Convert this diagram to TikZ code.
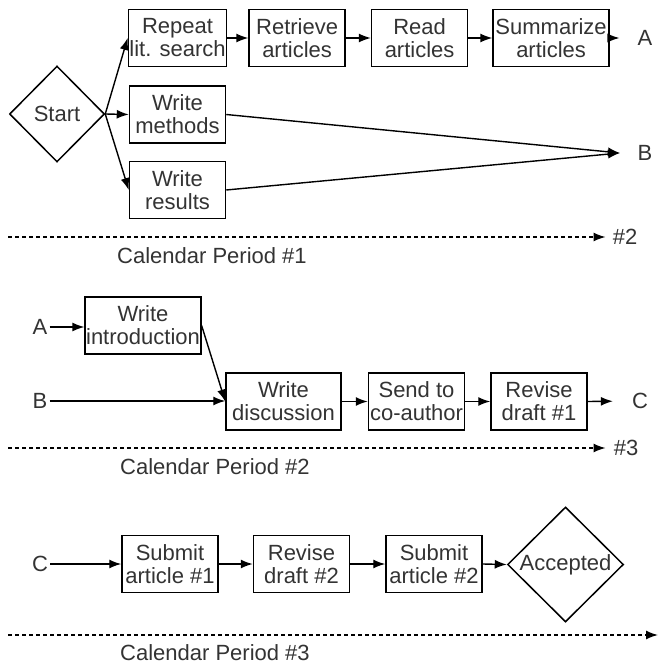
\documentclass[tikz,border=0pt]{standalone}
\usepackage{fontspec}
\setmainfont{Liberation Sans}
\usetikzlibrary{shapes.geometric,arrows.meta,positioning}

\begin{document}
\begin{tikzpicture}[x=1pt, y=-1pt,
    task/.style={rectangle, draw, line width=1.5pt, minimum width=96pt, minimum height=57pt, inner xsep=1pt, inner ysep=2pt, align=center, text=black!80, font=\fontsize{22}{23}\selectfont},
    decide/.style={diamond, draw, line width=1.5pt, inner sep=0pt, text=black!80, font=\fontsize{22}{23}\selectfont},
    lbl/.style={inner sep=2pt, text=black!80, font=\fontsize{22}{23}\selectfont},
    flow/.style={-{Latex[length=12pt,width=9pt]}, line width=1.4pt},
    period/.style={flow, line width=1.5pt, dash pattern=on 4pt off 3pt}
]
\useasboundingbox (0,0) rectangle (658,666);

% calendar period 1
\node[decide, minimum width=95pt, minimum height=96pt] (start) at (57,114) {Start};
\node[task] (search) at (177.5,38) {Repeat\\lit. search};
\node[task, right=21pt of search] (retrieve) {Retrieve\\articles};
\node[task, right=25pt of retrieve] (read) {Read\\articles};
\node[task, minimum width=116pt, right=24pt of read] (summ) {Summarize\\articles};
\node[lbl] (outA) at (645,38) {A};
\node[task] (methods) at (177.5,114.5) {Write\\methods};
\node[task] (results) at (177.5,190) {Write\\results};
\coordinate (joinB) at (620,153);
\node[lbl] (outB) at (645,153) {B};

\draw[flow] (start.east) -- (search.west);
\draw[flow] (start.east) -- (methods.west);
\draw[flow] (start.east) -- (results.west);
\draw[flow] (search) -- (retrieve);
\draw[flow] (retrieve) -- (read);
\draw[flow] (read) -- (summ);
\draw[flow, shorten >=16pt] (summ.east) -- (outA.west);
\draw[flow] (methods.east) -- (joinB);
\draw[flow] (results.east) -- (joinB);

\coordinate (p1) at (8,237);
\node[lbl] (next2) at (625,237) {\#2};
\draw[period, shorten >=5pt] (p1) -- (next2.west);
\node[lbl, anchor=west] (cal1) at (115,256) {Calendar Period \#1};

% calendar period 2
\node[lbl] (inA) at (40,327) {A};
\node[task] (intro) at (143,325.5) {Write\\introduction};
\node[lbl] (inB) at (40,401) {B};
\node[task, minimum width=115pt] (discuss) at (283.5,401.5) {Write\\discussion};
\node[task, right=26pt of discuss] (send) {Send to\\co-author};
\node[task, right=25pt of send] (revise1) {Revise\\draft \#1};
\node[lbl] (outC) at (640,401) {C};

\draw[flow] (inA.east) -- (inA.east -| intro.west);
\draw[flow] (intro.east) -- (discuss.west);
\draw[flow] (inB.east) -- (inB.east -| discuss.west);
\draw[flow] (discuss) -- (send);
\draw[flow] (send) -- (revise1);
\draw[flow, shorten >=17pt] (revise1.east) -- (outC.west);

\coordinate (p2) at (8,448);
\node[lbl] (next3) at (626,448) {\#3};
\draw[period, shorten >=6pt] (p2) -- (next3.west);
\node[lbl, anchor=west] (cal2) at (118,467) {Calendar Period \#2};

% calendar period 3
\node[lbl] (inC) at (40,564) {C};
\node[task] (submit1) at (170,564) {Submit\\article \#1};
\node[task, right=34pt of submit1] (revise2) {Revise\\draft \#2};
\node[task, right=35pt of revise2] (submit2) {Submit\\article \#2};
\node[decide, minimum width=116pt, minimum height=115pt] (accept) at (565.5,564.5) {Accepted};

\draw[flow] (inC.east) -- (submit1.west);
\draw[flow] (submit1) -- (revise2);
\draw[flow] (revise2) -- (submit2);
\draw[flow] (submit2.east) -- (accept.west);

\coordinate (p3) at (8,635);
\coordinate (end3) at (658,635);
\draw[period] (p3) -- (end3);
\node[lbl, anchor=west] (cal3) at (118,653) {Calendar Period \#3};

\end{tikzpicture}
\end{document}
